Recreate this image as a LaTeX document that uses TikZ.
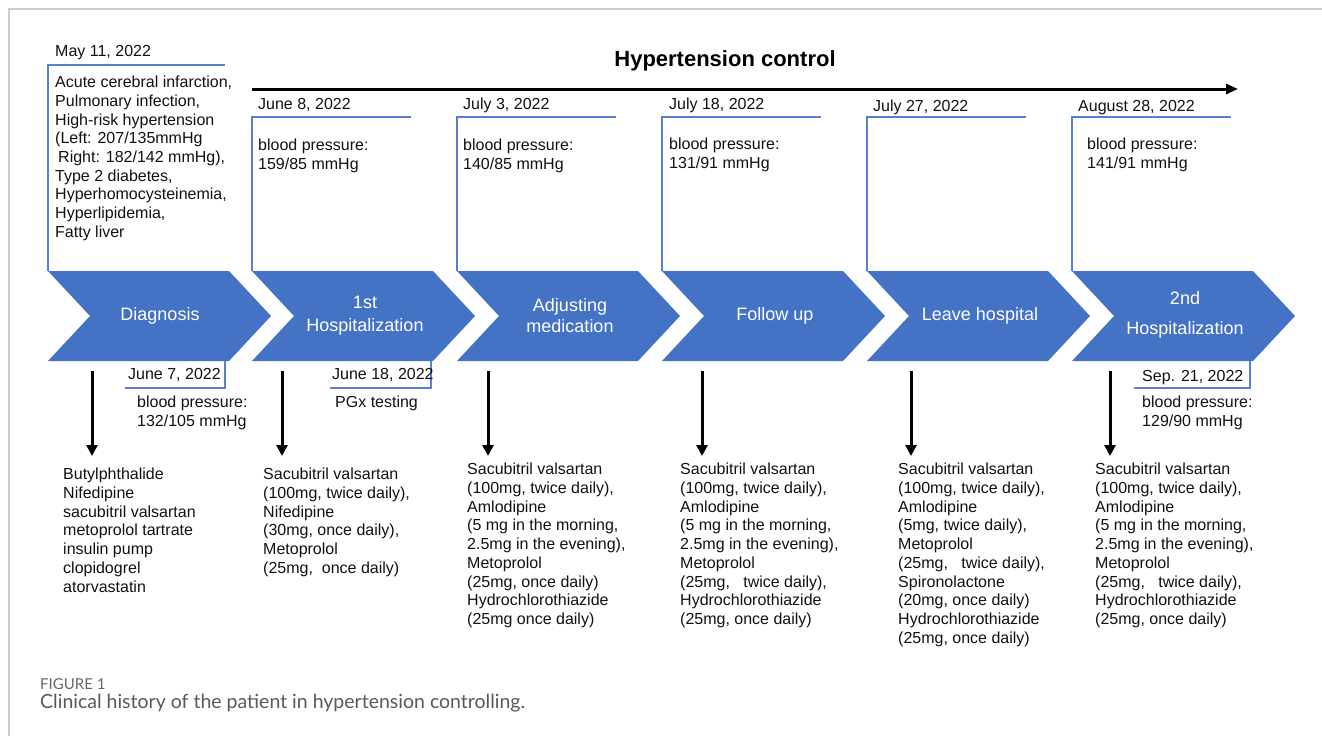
\documentclass[tikz,border=0pt]{standalone}
\usepackage{fontspec}
\setmainfont{Liberation Sans}
\newfontfamily\capfont{Lato}
\usetikzlibrary{arrows.meta}
\definecolor{chevblue}{HTML}{4472C4}
\definecolor{boxblue}{HTML}{5A7ED2}
\definecolor{inkgray}{HTML}{111111}

\begin{document}
\begin{tikzpicture}[x=1pt,y=-1pt,
	txt/.style={inner sep=0pt,align=left,anchor=north west,text=inkgray,font=\fontsize{16}{18.7}\selectfont},
	lbl/.style={inner sep=0pt,align=center,text=white,font=\fontsize{18}{23}\selectfont},
	chev/.style={fill=chevblue},
	frame/.style={draw=boxblue,line width=1.4pt},
	down/.style={-{Triangle[length=11pt,width=11pt]},line width=3pt}]
	\useasboundingbox (0,0) rectangle (1322,736);
	\draw[black!20,line width=1.5pt] (9,736) -- (9,9) -- (1322,9);

	% Chevrons start here
	\foreach \x in {48,252,457,662,867,1072}
		\fill[chev] (\x,271) -- ++(181,0) -- ++(42,45) -- ++(-42,45) -- ++(-181,0) -- ++(42,-45) -- cycle;
	\node (diag) at (160,316) [lbl] {Diagnosis};
	\node (hosp1) at (365,316) [lbl] {1st\\Hospitalization};
	\node (adjust) at (570,316) [lbl,font=\fontsize{18}{21}\selectfont] {Adjusting\\medication};
	\node (follow) at (775,316) [lbl] {Follow up};
	\node (leave) at (980,316) [lbl] {Leave hospital};
	\node (hosp2) at (1185,315) [lbl,font=\fontsize{18}{30}\selectfont] {2nd\\Hospitalization};

	% Title and time line
	\node (title) at (725,61) [text=black,font=\bfseries\fontsize{22}{26}\selectfont] {Hypertension control};
	\coordinate (tl0) at (252,89);
	\coordinate (tl1) at (1238,89);
	\draw[line width=3pt,-{Triangle[length=12pt,width=10pt]}] (tl0) -- (tl1);

	% Boxes above
	\draw[frame] (48,271) |- (225,65);
	\foreach \x in {252,457,662,867,1072}
		\draw[frame] (\x,271) |- (\x+159,117);

	\node (d1) at (55,45) [txt] {May 11, 2022};
	\node (d2) at (258,98) [txt] {June 8, 2022};
	\node (d3) at (463,98) [txt] {July 3, 2022};
	\node (d4) at (669,98) [txt] {July 18, 2022};
	\node (d5) at (873,100) [txt] {July 27, 2022};
	\node (d6) at (1078,100) [txt] {August 28, 2022};

	\node (b1) at (55,76) [txt] {Acute cerebral infarction,\\Pulmonary infection,\\High-risk hypertension\\(Left: 207/135mmHg\\\hspace{3pt}Right: 182/142 mmHg),\\Type 2 diabetes,\\Hyperhomocysteinemia,\\Hyperlipidemia,\\Fatty liver};
	\node (b2) at (258,139) [txt] {blood pressure:\\159/85 mmHg};
	\node (b3) at (463,139) [txt] {blood pressure:\\140/85 mmHg};
	\node (b4) at (669,138) [txt] {blood pressure:\\131/91 mmHg};
	\node (b6) at (1087,138) [txt] {blood pressure:\\141/91 mmHg};

	% Boxes below
	\draw[frame] (125,388) -| (225,361);
	\draw[frame] (330,388) -| (431,361);
	\draw[frame] (1134,388) -| (1250,361);
	\node (e1) at (128,368) [txt] {June 7, 2022};
	\node (e2) at (332,368) [txt] {June 18, 2022};
	\node (e6) at (1142,370) [txt] {Sep. 21, 2022};
	\node (f1) at (137,396) [txt] {blood pressure:\\132/105 mmHg};
	\node (f2) at (335,396) [txt] {PGx testing};
	\node (f6) at (1142,396) [txt] {blood pressure:\\129/90 mmHg};

	% Arrows down
	\foreach \x [count=\i] in {92,282,488,702,911,1110} {
		\coordinate (s\i) at (\x,371);
		\coordinate (t\i) at (\x,456);
		\draw[down] (s\i) -- (t\i);
	}

	% Drug lists
	\node (m1) at (63,468) [txt] {Butylphthalide\\Nifedipine\\sacubitril valsartan\\metoprolol tartrate\\insulin pump\\clopidogrel\\atorvastatin};
	\node (m2) at (263,468) [txt] {Sacubitril valsartan\\(100mg, twice daily),\\Nifedipine\\(30mg, once daily),\\Metoprolol\\(25mg,\ \ once daily)};
	\node (m3) at (467,463) [txt] {Sacubitril valsartan\\(100mg, twice daily),\\Amlodipine\\(5 mg in the morning,\\2.5mg in the evening),\\Metoprolol\\(25mg, once daily)\\Hydrochlorothiazide\\(25mg once daily)};
	\node (m4) at (680,463) [txt] {Sacubitril valsartan\\(100mg, twice daily),\\Amlodipine\\(5 mg in the morning,\\2.5mg in the evening),\\Metoprolol\\(25mg,\ \ \ twice daily),\\Hydrochlorothiazide\\(25mg, once daily)};
	\node (m5) at (898,463) [txt] {Sacubitril valsartan\\(100mg, twice daily),\\Amlodipine\\(5mg, twice daily),\\Metoprolol\\(25mg,\ \ \ twice daily),\\Spironolactone\\(20mg, once daily)\\Hydrochlorothiazide\\(25mg, once daily)};
	\node (m6) at (1095,463) [txt] {Sacubitril valsartan\\(100mg, twice daily),\\Amlodipine\\(5 mg in the morning,\\2.5mg in the evening),\\Metoprolol\\(25mg,\ \ \ twice daily),\\Hydrochlorothiazide\\(25mg, once daily)};

	% Caption
	\node (fig) at (40,684) [anchor=west,inner sep=0pt,text=black!60,font=\capfont\fontsize{15}{17}\selectfont] {FIGURE 1};
	\node (cap) at (40,703) [anchor=west,inner sep=0pt,text=black!65,font=\capfont\fontsize{19.5}{22}\selectfont] {Clinical history of the patient in hypertension controlling.};
\end{tikzpicture}
\end{document}
